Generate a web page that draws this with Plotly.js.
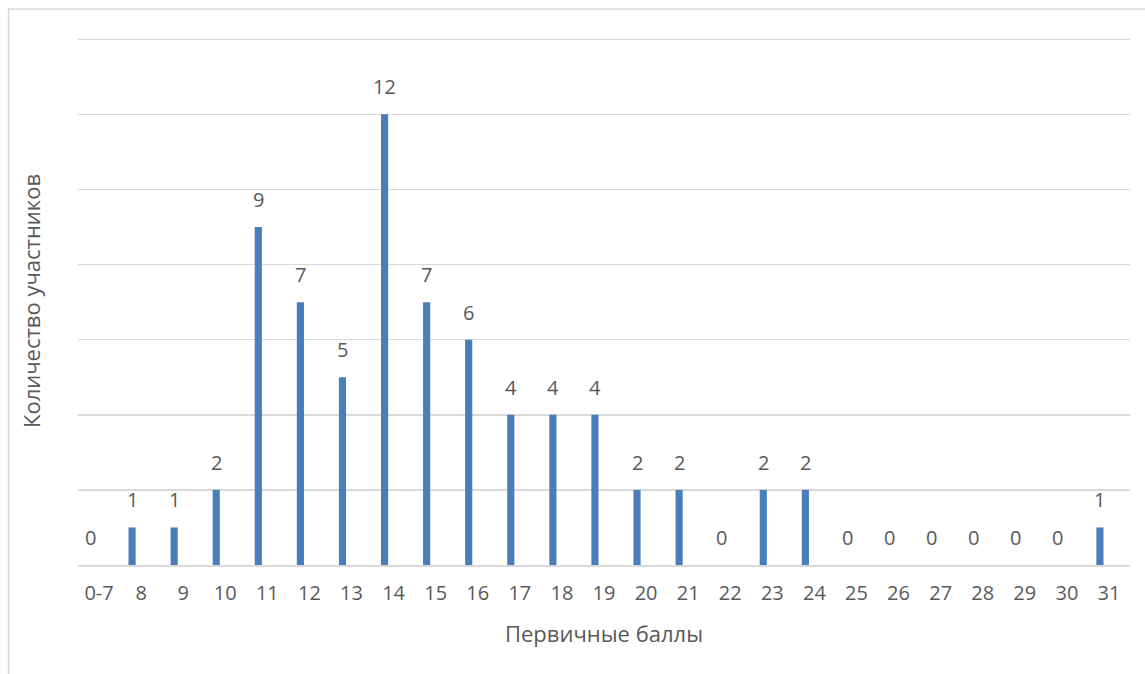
<!DOCTYPE html>
<html>
<head>
<meta charset="utf-8">
<script src="https://cdn.plot.ly/plotly-3.0.1.min.js"></script>
<style>
  html, body { margin: 0; padding: 0; background: #ffffff; }
  #chart { width: 1145px; height: 674px; }
</style>
</head>
<body>
<div id="chart"></div>
<script>
// Distribution of participants by primary score
const scoreLabels = ['0-7', '8', '9', '10', '11', '12', '13', '14', '15', '16', '17', '18', '19',
                     '20', '21', '22', '23', '24', '25', '26', '27', '28', '29', '30', '31'];
const participantCounts = [0, 1, 1, 2, 9, 7, 5, 12, 7, 6, 4, 4, 4,
                           2, 2, 0, 2, 2, 0, 0, 0, 0, 0, 0, 1];

const xTitle = 'Первичные баллы';
const yTitle = 'Количество участников';

const textColor = '#595959';
const gridColor = '#d9d9d9';
const barColor = '#4a7ebb';
const fontFamily = '"Open Sans", "Noto Sans", sans-serif';

const bars = {
  type: 'bar',
  x: scoreLabels,
  y: participantCounts,
  width: 0.17,
  offset: -0.3,
  marker: { color: barColor },
  hoverinfo: 'x+y'
};

// value labels sit above each bar, centred on it
// (x given as the category's serial position, since labels like '8' look numeric)
const valueLabels = scoreLabels.map((lab, i) => ({
  x: i,
  y: participantCounts[i],
  xref: 'x',
  yref: 'y',
  text: String(participantCounts[i]),
  showarrow: false,
  yanchor: 'bottom',
  xshift: -9,
  yshift: 12,
  font: { family: fontFamily, size: 20, color: textColor }
}));

const layout = {
  width: 1145,
  height: 674,
  margin: { l: 78, r: 15, t: 37, b: 109 },
  paper_bgcolor: '#ffffff',
  plot_bgcolor: '#ffffff',
  showlegend: false,
  font: { family: fontFamily, size: 20, color: textColor },
  xaxis: {
    type: 'category',
    range: [-0.5, scoreLabels.length - 0.5],
    showgrid: false,
    zeroline: false,
    showline: true,
    linecolor: gridColor,
    linewidth: 1.5,
    ticks: 'outside',
    ticklen: 9,
    tickcolor: 'rgba(0,0,0,0)',
    tickfont: { family: fontFamily, size: 20, color: textColor },
    title: { text: xTitle, standoff: 22, font: { family: fontFamily, size: 22, color: textColor } },
    automargin: false
  },
  yaxis: {
    // a little headroom so the top gridline at 14 stays visible
    range: [0, 14.06],
    dtick: 2,
    showgrid: true,
    gridcolor: gridColor,
    gridwidth: 1.5,
    zeroline: false,
    showticklabels: false,
    ticks: '',
    title: { text: yTitle, standoff: 30, font: { family: fontFamily, size: 22, color: textColor } },
    automargin: false
  },
  shapes: [{
    type: 'rect',
    xref: 'paper',
    yref: 'paper',
    x0: -0.066,
    x1: 1.03,
    y0: -0.25,
    y1: 1.053,
    line: { color: gridColor, width: 1.5 },
    fillcolor: 'rgba(0,0,0,0)',
    layer: 'below'
  }],
  annotations: valueLabels
};

Plotly.newPlot('chart', [bars], layout, { displayModeBar: false, staticPlot: true });
</script>
</body>
</html>
